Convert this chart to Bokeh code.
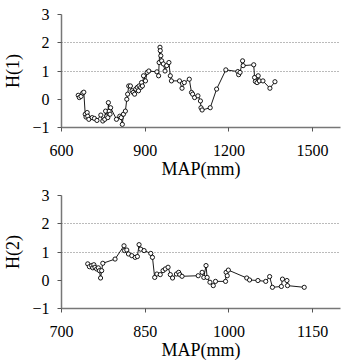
from bokeh.plotting import figure
from bokeh.layouts import column
from bokeh.models import FixedTicker, ColumnDataSource
from bokeh.embed import file_html
from bokeh.resources import INLINE

# Panel 1: H(1) vs MAP(mm)
map1 = [660, 664, 670, 676, 680, 685, 688, 692, 694, 698, 710, 718, 727, 741, 748,
        755, 758, 762, 766, 768, 771, 774, 776, 797, 809, 814, 818, 822, 829, 834,
        837, 841, 847, 853, 857, 862, 866, 872, 876, 878, 884, 887, 890, 894, 901,
        907, 913, 942, 948, 950, 953, 954, 956, 959, 965, 971, 977, 985, 990, 994,
        1023, 1032, 1040, 1058, 1066, 1070, 1077, 1089, 1098, 1100, 1104, 1133, 1156,
        1189, 1232, 1235, 1240, 1249, 1251, 1289, 1292, 1295, 1301, 1305, 1309, 1322,
        1347, 1365]
h1 = [0.14, 0.06, 0.10, 0.22, 0.25, -0.53, -0.63, -0.47, -0.60, -0.71, -0.65, -0.68,
      -0.75, -0.56, -0.77, -0.71, -0.42, -0.60, -0.65, -0.12, -0.42, -0.53, -0.30,
      -0.71, -0.60, -0.65, -0.89, -0.53, -0.42, 0.00, 0.18, 0.47, 0.47, 0.30, 0.24,
      0.18, 0.36, 0.42, 0.30, 0.47, 0.42, 0.59, 0.47, 0.83, 0.65, 0.95, 1.00, 0.97,
      0.83, 1.30, 1.84, 1.72, 1.54, 1.36, 1.25, 1.00, 1.19, 1.30, 0.83, 0.65, 0.65,
      0.39, 0.59, 0.71, 0.24, 0.18, 0.06, 0.12, -0.06, -0.30, -0.38, -0.30, 0.36,
      1.04, 0.98, 0.87, 0.95, 1.36, 1.19, 1.22, 0.77, 0.63, 0.59, 0.83, 0.65, 0.65,
      0.39, 0.62]

# Panel 2: H(2) vs MAP(mm)
map2 = [747, 750, 754, 756, 758, 760, 763, 766, 768, 770, 772, 774, 796, 812, 813,
        817, 820, 826, 832, 836, 839, 842, 848, 860, 863, 867, 871, 877, 882, 886,
        891, 895, 899, 906, 910, 912, 916, 945, 952, 955, 959, 961, 966, 972, 976,
        994, 995, 997, 999, 1032, 1037, 1052, 1066, 1073, 1078, 1094, 1096, 1104,
        1105, 1135]
h2 = [0.58, 0.48, 0.52, 0.44, 0.55, 0.46, 0.40, 0.44, 0.34, 0.08, 0.34, 0.60, 0.75,
      1.22, 1.05, 1.07, 0.93, 0.87, 0.81, 0.84, 1.26, 1.10, 1.05, 0.95, 0.81, 0.10,
      0.22, 0.20, 0.34, 0.40, 0.46, 0.20, 0.08, 0.22, 0.28, 0.20, 0.14, 0.16, 0.28,
      0.10, 0.52, 0.10, -0.07, -0.19, -0.04, -0.04, 0.28, 0.16, 0.36, 0.08, 0.01,
      -0.01, -0.04, 0.13, -0.25, -0.22, 0.04, -0.01, -0.19, -0.25]

y_ticks = [-1, 0, 1, 2, 3]
grid_levels = [1, 2]
x_ticks1 = [600, 900, 1200, 1500]
x_ticks2 = [700, 850, 1000, 1150]
x_title = "MAP(mm)"

FONT = "Liberation Serif"


def make_panel(xs, ys, xr, xticks, ylabel, height, mb_left, mb_right, mb_top, mb_bottom):
    p = figure(width=353, height=height, x_range=xr, y_range=(-1, 3),
               output_backend="svg", toolbar_location=None,
               min_border_left=mb_left, min_border_right=mb_right,
               min_border_top=mb_top, min_border_bottom=mb_bottom)
    p.outline_line_color = None
    p.background_fill_color = "white"
    p.xgrid.visible = False
    p.ygrid.ticker = FixedTicker(ticks=grid_levels)
    p.ygrid.grid_line_color = "#777777"
    p.ygrid.grid_line_dash = "1 2"
    p.ygrid.grid_line_width = 1

    p.xaxis.ticker = FixedTicker(ticks=xticks)
    p.yaxis.ticker = FixedTicker(ticks=y_ticks)
    p.xaxis.axis_label = x_title
    p.yaxis.axis_label = ylabel
    for ax in (p.xaxis, p.yaxis):
        ax.axis_line_color = "#777777"
        ax.axis_line_width = 1.5
        ax.major_tick_line_color = "#555555"
        ax.major_tick_out = 4
        ax.major_tick_in = 0
        ax.minor_tick_line_color = None
        ax.major_label_text_font = FONT
        ax.major_label_text_font_size = "16px"
        ax.major_label_text_color = "black"
        ax.axis_label_text_font = FONT
        ax.axis_label_text_font_size = "18px"
        ax.axis_label_text_font_style = "normal"
        ax.axis_label_text_color = "black"
    p.xaxis.major_label_standoff = 13
    p.xaxis.axis_label_standoff = 0
    p.yaxis.major_label_standoff = 8
    p.yaxis.axis_label_standoff = 6

    src = ColumnDataSource(dict(x=xs, y=ys))
    p.line("x", "y", source=src, line_color="black", line_width=0.9)
    p.scatter("x", "y", source=src, size=4.2, fill_color="white",
              line_color="black", line_width=0.9)
    return p


p1 = make_panel(map1, h1, (600, 1600), x_ticks1, "H(1)", 183, 54, 13, 14, 56)
p2 = make_panel(map2, h2, (700, 1200), x_ticks2, "H(2)", 180, 53, 8, 12, 55)

layout = column(p1, p2, spacing=0)
open("out.html", "w").write(file_html(layout, INLINE))
